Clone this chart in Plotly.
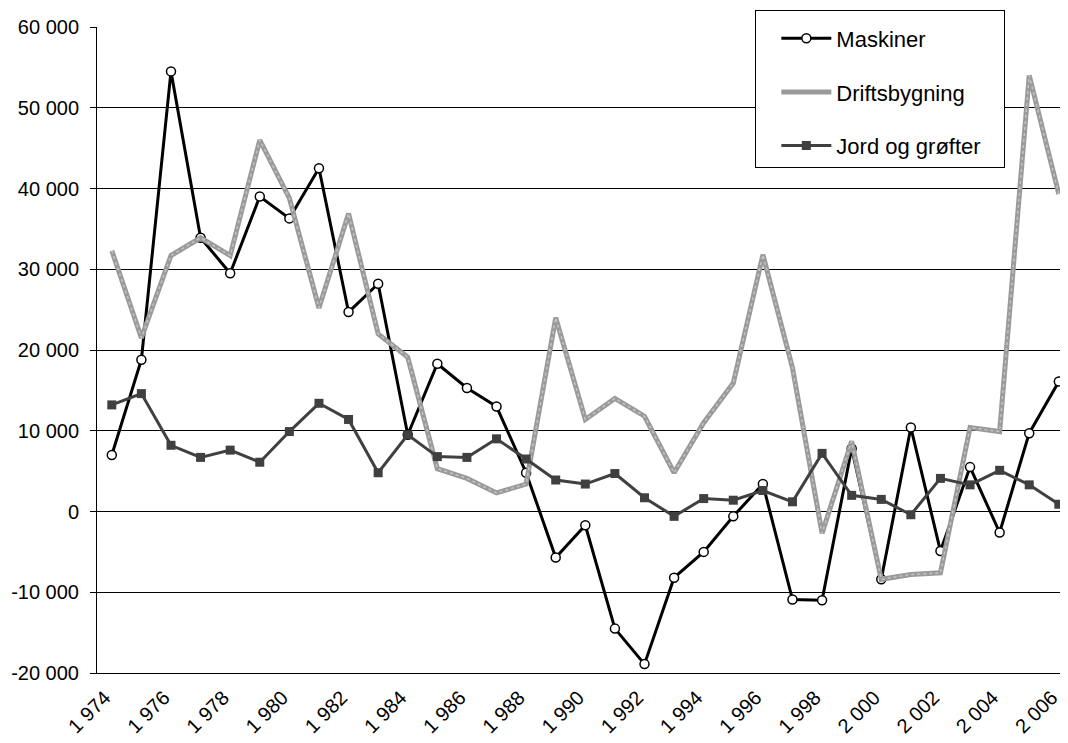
# Investments per year: Maskiner, Driftsbygning, Jord og grøfter (1974-2006)
import plotly.graph_objects as go

years = list(range(1974, 2007))

maskiner = [7000, 18800, 54500, 33900, 29500, 39000, 36300, 42500, 24700, 28200,
            9500, 18300, 15300, 13000, 4800, -5700, -1700, -14500, -18900, -8200,
            -5000, -600, 3400, -10900, -11000, 7800, -8400, 10400, -4900, 5500,
            -2600, 9700, 16100]

driftsbygning = [32300, 21500, 31700, 33900, 31700, 46000, 38800, 25200, 36900, 22000,
                 19100, 5300, 4100, 2300, 3400, 24000, 11400, 14000, 11800, 4800,
                 11000, 15900, 31800, 17800, -2700, 8700, -8400, -7800, -7600, 10400,
                 9900, 54000, 39300]

jord = [13200, 14600, 8200, 6700, 7600, 6100, 9900, 13400, 11400, 4800,
        9500, 6800, 6700, 9000, 6500, 3900, 3400, 4700, 1700, -600,
        1600, 1400, 2600, 1200, 7200, 2000, 1500, -400, 4100, 3300,
        5100, 3300, 900]

y_ticks = [-20000, -10000, 0, 10000, 20000, 30000, 40000, 50000, 60000]
y_labels = ["-20 000", "-10 000", "0", "10 000", "20 000", "30 000", "40 000", "50 000", "60 000"]

x_ticks = years[::2]
x_labels = ["1 974", "1 976", "1 978", "1 980", "1 982", "1 984", "1 986", "1 988", "1 990",
            "1 992", "1 994", "1 996", "1 998", "2 000", "2 002", "2 004", "2 006"]

FONT = "Liberation Sans, Arial, sans-serif"
PAD = "\u00a0" * 3  # keeps the legend box as wide as the original

fig = go.Figure()

fig.add_trace(go.Scatter(
    x=years, y=maskiner, name="Maskiner", legendgroup="a",
    mode="lines+markers",
    line={"color": "#000000", "width": 3},
    marker={"symbol": "circle", "size": 9, "color": "#ffffff",
            "line": {"color": "#000000", "width": 1.5}},
))

fig.add_trace(go.Scatter(
    x=years, y=driftsbygning, name="Driftsbygning", legendgroup="b",
    mode="lines",
    line={"color": "#9a9a9a", "width": 5},
))

# lighter core to imitate the hatched texture of the original line
fig.add_trace(go.Scatter(
    x=years, y=driftsbygning, showlegend=False, hoverinfo="skip",
    mode="lines",
    line={"color": "#c4c4c4", "width": 1.5, "dash": "dot"},
))

fig.add_trace(go.Scatter(
    x=years, y=jord, name="Jord og grøfter" + PAD, legendgroup="c",
    mode="lines+markers",
    line={"color": "#404040", "width": 3},
    marker={"symbol": "square", "size": 9, "color": "#404040"},
))

# the page body adds 8px on the left and top, so the figure is 8px smaller
fig.update_layout(
    width=1060,
    height=735,
    margin={"l": 89, "r": 0, "t": 19, "b": 70, "autoexpand": False},
    plot_bgcolor="#ffffff",
    paper_bgcolor="#ffffff",
    font={"family": FONT, "size": 20, "color": "#000000"},
    showlegend=True,
    legend={
        "x": 0.678, "y": 1.0263, "xanchor": "left", "yanchor": "top",
        "bgcolor": "#ffffff", "bordercolor": "#000000", "borderwidth": 1,
        "font": {"family": FONT, "size": 22},
        "title": {"text": " ", "font": {"size": 5}},
        "traceorder": "grouped", "tracegroupgap": 22,
        "itemwidth": 50,
        "indentation": 20,
    },
    xaxis={
        "range": [1973.5, 2006.31],
        "tickvals": x_ticks,
        "ticktext": x_labels,
        "tickangle": -45,
        "ticks": "",
        "ticklabelstandoff": 4,
        "ticklabelshift": -7,
        "showgrid": False,
        "zeroline": False,
        "showline": True,
        "linecolor": "#000000",
        "linewidth": 1,
        "tickfont": {"family": FONT, "size": 20, "color": "#000000"},
    },
    xaxis2={
        "range": [1973.5, 2006.31],
        "overlaying": "x",
        "anchor": "free",
        "position": 0.25,
        "side": "bottom",
        "tickvals": [y + 0.5 for y in years[:-1]],
        "ticks": "outside",
        "ticklen": 6,
        "tickcolor": "#000000",
        "showticklabels": False,
        "showgrid": False,
        "zeroline": False,
        "showline": True,
        "linecolor": "#000000",
        "linewidth": 1,
    },
    yaxis={
        "range": [-20000, 60000],
        "tickvals": y_ticks,
        "ticktext": y_labels,
        "ticks": "outside",
        "ticklen": 6,
        "ticklabelstandoff": 7,
        "tickcolor": "#000000",
        "showgrid": True,
        "gridcolor": "#000000",
        "gridwidth": 1,
        "zeroline": False,
        "showline": True,
        "linecolor": "#000000",
        "linewidth": 1,
        "tickfont": {"family": FONT, "size": 20, "color": "#000000"},
    },
)

fig.update_traces(hoverinfo="none", hovertemplate=None)

fig.write_html("out.html")
